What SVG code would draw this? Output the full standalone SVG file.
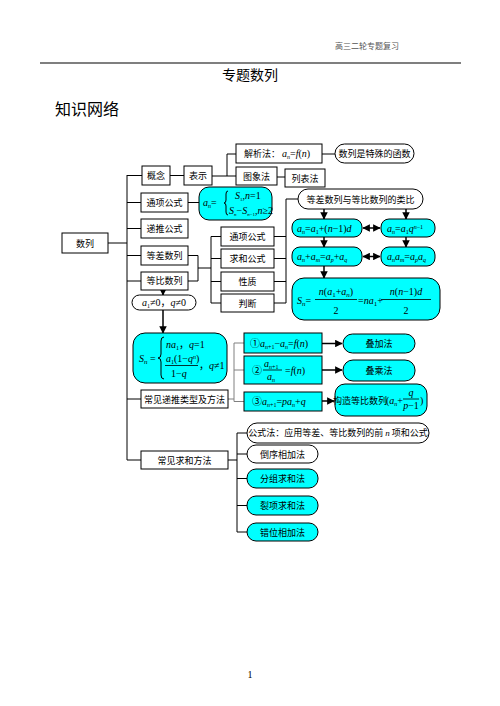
<svg xmlns="http://www.w3.org/2000/svg" width="500" height="706" viewBox="0 0 500 706">
<defs>
<marker id="ah" viewBox="0 0 6 6" refX="5.5" refY="3" markerWidth="5" markerHeight="5" orient="auto-start-reverse"><path d="M0,0 L6,3 L0,6 z" fill="#000"/></marker>
<style>
.b{fill:#fff;stroke:#000;stroke-width:1}
.c{fill:#00ffff;stroke:#000;stroke-width:1}
.l{stroke:#000;fill:none;stroke-width:1}
.g{stroke:#808080;fill:none;stroke-width:1}
.a{stroke:#000;fill:none;stroke-width:1.5;marker-end:url(#ah)}
.d{stroke:#000;fill:none;stroke-width:1.5;marker-end:url(#ah);marker-start:url(#ah)}
.t{font-family:"Noto Sans CJK SC",sans-serif;font-size:9px;text-anchor:middle;fill:#000}
.m{font-family:"Liberation Serif","Noto Sans CJK SC",serif;font-size:10px;fill:#000}
.mc{font-family:"Liberation Serif","Noto Sans CJK SC",serif;font-size:10px;fill:#000;text-anchor:middle}
.i{font-style:italic}
</style>
</defs>
<rect width="500" height="706" fill="#fff"/>
<text x="367" y="49" style="font-family:'Liberation Serif','Noto Sans CJK SC',serif;font-size:8px;fill:#555;text-anchor:middle">高三二轮专题复习</text>
<line x1="40" y1="63" x2="461" y2="63" stroke="#000" stroke-width="1.2"/>
<text x="250" y="80" style="font-family:'Noto Sans CJK SC',sans-serif;font-size:14px;text-anchor:middle">专题数列</text>
<text x="55" y="115" style="font-family:'Noto Sans CJK SC',sans-serif;font-size:16px">知识网络</text>
<text x="250" y="678" style="font-family:'Liberation Serif',serif;font-size:10px;text-anchor:middle">1</text>

<g id="connectors">
<path class="l" d="M108,243 H127 M127,175 V460 M127,175.5 H142 M127,202.5 H141 M127,228.5 H141 M127,255.5 H141 M127,281 H141 M127,399 H141 M127,460 H141"/>
<path class="l" d="M170,175.5 H184 M212,176 H227 V154 H236 M227,176 H236 M277,177 H285 M322,154 H335 M188,202.5 H199"/>
<path class="l" d="M188,255.5 H198 M188,281 H198 M198,255.5 V281 M198,268 H211 M211,236.5 V303 M211,236.5 H221 M211,258.5 H221 M211,281.5 H221 M211,303 H221"/>
<path class="l" d="M274,236.5 H286 M274,258.5 H286 M274,281.5 H286 M274,303 H286 M286,199 V303 M286,199 H298"/>
<path class="a" d="M163,290 V295"/>
<path class="a" d="M163,310 V333"/>
<path class="a" d="M324,209 V219"/>
<path class="a" d="M406,209 V219"/>
<path class="a" d="M324,237 V247"/>
<path class="a" d="M406,237 V247"/>
<path class="a" d="M324,266 V278"/>
<path class="d" d="M363,228 H380"/>
<path class="d" d="M363,256.5 H380"/>
<path class="g" d="M228,399 H234 M234,343 V401.5 M234,343 H244 M234,370 H244 M234,401.5 H244"/>
<path class="a" d="M322,343.5 H342"/>
<path class="a" d="M322,370 H342"/>
<path class="a" d="M322,401 H334"/>
<path class="l" d="M228,460 H237 M237,433 V532 M237,433 H247 M237,454 H247 M237,478.5 H247 M237,505.5 H247 M237,532 H247"/>
</g>

<g id="n-shulie"><rect class="b" x="62" y="233" width="46" height="20"/><text class="t" x="85" y="246.5">数列</text></g>
<g id="n-gainian"><rect class="b" x="142" y="166" width="28" height="19"/><text class="t" x="156" y="178.5">概念</text></g>
<g id="n-biaoshi"><rect class="b" x="184" y="166" width="28" height="19"/><text class="t" x="198" y="178.5">表示</text></g>
<g id="n-tongxiang"><rect class="b" x="141" y="193" width="47" height="19"/><text class="t" x="164.5" y="205.5">通项公式</text></g>
<g id="n-ditui"><rect class="b" x="141" y="219" width="47" height="19"/><text class="t" x="164.5" y="231.5">递推公式</text></g>
<g id="n-dengcha"><rect class="b" x="141" y="246" width="47" height="19"/><text class="t" x="164.5" y="258.5">等差数列</text></g>
<g id="n-dengbi"><rect class="b" x="141" y="272" width="47" height="18"/><text class="t" x="164.5" y="284">等比数列</text></g>
<g id="n-cond"><rect class="b" x="132" y="295" width="64" height="15" rx="7.5"/><text class="m" x="142" y="306"><tspan class="i">a</tspan><tspan font-size="6" dy="2">1</tspan><tspan dy="-2">≠0，</tspan><tspan class="i">q</tspan>≠0</text></g>
<g id="n-sn-geo"><rect class="c" x="133" y="333" width="94" height="50" rx="12"/>
<text class="m" x="139" y="362" font-size="12"><tspan class="i">S</tspan><tspan font-size="7" dy="2" class="i">n</tspan><tspan dy="-2"> =</tspan></text>
<path class="l" d="M164,337 q-3,0 -3,4 v13 q0,4 -3,4 q3,0 3,4 v13 q0,4 3,4"/>
<text class="m" x="166" y="348" font-size="9"><tspan class="i">na</tspan><tspan font-size="6" dy="2">1</tspan><tspan dy="-2">，</tspan><tspan class="i">q</tspan>=1</text>
<text class="m" x="166" y="362" font-size="9"><tspan class="i">a</tspan><tspan font-size="6" dy="2">1</tspan><tspan dy="-2">(1−</tspan><tspan class="i">q</tspan><tspan font-size="6" dy="-3" class="i">n</tspan><tspan dy="3">)</tspan></text>
<line x1="165" y1="365.5" x2="198" y2="365.5" stroke="#000" stroke-width="0.8"/>
<text class="m" x="171" y="377" font-size="10">1−<tspan class="i">q</tspan></text>
<text class="m" x="199" y="369" font-size="9">，<tspan class="i">q</tspan>≠1</text></g>
<g id="n-changjian-ditui"><rect class="b" x="141" y="390" width="87" height="18"/><text class="t" x="184.5" y="402.5">常见递推类型及方法</text></g>
<g id="n-changjian-qiuhe"><rect class="b" x="141" y="451" width="87" height="18"/><text class="t" x="184.5" y="463.5">常见求和方法</text></g>

<g id="n-jiexi"><rect class="b" x="236" y="144" width="86" height="19"/><text class="t" x="262" y="156.5">解析法：</text><text class="m" x="282" y="157"><tspan class="i">a</tspan><tspan font-size="6" dy="2" class="i">n</tspan><tspan dy="-2">=</tspan><tspan class="i">f</tspan>(<tspan class="i">n</tspan>)</text></g>
<g id="n-hanshu"><rect class="b" x="335" y="144" width="79" height="19" rx="9.5"/><text class="t" x="374.5" y="156.5" font-size="8.5">数列是特殊的函数</text></g>
<g id="n-tuxiang"><rect class="b" x="236" y="167" width="41" height="18"/><text class="t" x="256.5" y="179.5">图象法</text></g>
<g id="n-liebiao"><rect class="b" x="285" y="169" width="40" height="18"/><text class="t" x="305" y="181.5">列表法</text></g>
<g id="n-an"><rect class="c" x="199" y="187" width="73" height="33" rx="10"/>
<text class="m" x="203" y="206"><tspan class="i">a</tspan><tspan font-size="6" dy="2" class="i">n</tspan><tspan dy="-2">=</tspan></text>
<path class="l" stroke-width="0.8" d="M228,191 q-2,0 -2,3 v6 q0,3 -2,3 q2,0 2,3 v6 q0,3 2,3"/>
<text class="m" x="235" y="199" font-size="8"><tspan class="i">S</tspan><tspan font-size="5" dy="2">1</tspan><tspan dy="-2">,</tspan><tspan class="i">n</tspan>=1</text>
<text class="m" x="229" y="214" font-size="7.2"><tspan class="i">S</tspan><tspan font-size="5" dy="2" class="i">n</tspan><tspan dy="-2">−</tspan><tspan class="i">S</tspan><tspan font-size="5" dy="2" class="i">n</tspan><tspan font-size="5">−1</tspan><tspan dy="-2">,</tspan><tspan class="i">n</tspan>≥2</text></g>
<g id="n-tx2"><rect class="b" x="221" y="227" width="53" height="19"/><text class="t" x="247.5" y="239.5">通项公式</text></g>
<g id="n-qh2"><rect class="b" x="221" y="249" width="53" height="19"/><text class="t" x="247.5" y="261.5">求和公式</text></g>
<g id="n-xingzhi"><rect class="b" x="221" y="272" width="53" height="19"/><text class="t" x="247.5" y="284.5">性质</text></g>
<g id="n-panduan"><rect class="b" x="221" y="294" width="53" height="18"/><text class="t" x="247.5" y="306.5">判断</text></g>

<g id="n-leibi"><rect class="b" x="298" y="189" width="125" height="20" rx="10"/><text class="t" x="360.5" y="202.5">等差数列与等比数列的类比</text></g>
<g id="n-c1"><rect class="c" x="292" y="219" width="70" height="18" rx="8"/><text class="m" x="297" y="232"><tspan class="i">a</tspan><tspan font-size="6" dy="2" class="i">n</tspan><tspan dy="-2">=</tspan><tspan class="i">a</tspan><tspan font-size="6" dy="2">1</tspan><tspan dy="-2">+(</tspan><tspan class="i">n</tspan>−1)<tspan class="i">d</tspan></text></g>
<g id="n-c2"><rect class="c" x="381" y="219" width="54" height="18" rx="8"/><text class="m" x="387" y="232"><tspan class="i">a</tspan><tspan font-size="6" dy="2" class="i">n</tspan><tspan dy="-2">=</tspan><tspan class="i">a</tspan><tspan font-size="6" dy="2">1</tspan><tspan dy="-2" class="i">q</tspan><tspan font-size="6" dy="-3" class="i">n</tspan><tspan font-size="6">−1</tspan></text></g>
<g id="n-c3"><rect class="c" x="292" y="247" width="70" height="19" rx="8"/><text class="m" x="297" y="260"><tspan class="i">a</tspan><tspan font-size="6" dy="2" class="i">n</tspan><tspan dy="-2">+</tspan><tspan class="i">a</tspan><tspan font-size="6" dy="2" class="i">m</tspan><tspan dy="-2">=</tspan><tspan class="i">a</tspan><tspan font-size="6" dy="2" class="i">p</tspan><tspan dy="-2">+</tspan><tspan class="i">a</tspan><tspan font-size="6" dy="2" class="i">q</tspan></text></g>
<g id="n-c4"><rect class="c" x="381" y="247" width="54" height="19" rx="8"/><text class="m" x="387" y="260"><tspan class="i">a</tspan><tspan font-size="6" dy="2" class="i">n</tspan><tspan dy="-2" class="i">a</tspan><tspan font-size="6" dy="2" class="i">m</tspan><tspan dy="-2">=</tspan><tspan class="i">a</tspan><tspan font-size="6" dy="2" class="i">p</tspan><tspan dy="-2" class="i">a</tspan><tspan font-size="6" dy="2" class="i">q</tspan></text></g>
<g id="n-sn-ari"><rect class="c" x="292" y="278" width="148" height="42" rx="12"/>
<text class="m" x="297" y="304" font-size="12"><tspan class="i">S</tspan><tspan font-size="7" dy="2" class="i">n</tspan><tspan dy="-2">=</tspan></text>
<text class="mc" x="336" y="295" font-size="12"><tspan class="i">n</tspan>(<tspan class="i">a</tspan><tspan font-size="7" dy="2">1</tspan><tspan dy="-2">+</tspan><tspan class="i">a</tspan><tspan font-size="7" dy="2" class="i">n</tspan><tspan dy="-2">)</tspan></text>
<line x1="315" y1="299.5" x2="357" y2="299.5" stroke="#000" stroke-width="0.8"/>
<text class="mc" x="336" y="314" font-size="12">2</text>
<text class="m" x="358" y="304" font-size="12">=<tspan class="i">na</tspan><tspan font-size="7" dy="2">1</tspan><tspan dy="-2">+</tspan></text>
<text class="mc" x="406" y="295" font-size="12"><tspan class="i">n</tspan>(<tspan class="i">n</tspan>−1)<tspan class="i">d</tspan></text>
<line x1="381" y1="299.5" x2="431" y2="299.5" stroke="#000" stroke-width="0.8"/>
<text class="mc" x="406" y="314" font-size="12">2</text></g>

<g id="n-r1"><rect class="c" x="244" y="333" width="78" height="20"/><text class="m" x="250" y="347">①<tspan class="i">a</tspan><tspan font-size="6" dy="2" class="i">n</tspan><tspan font-size="6">+1</tspan><tspan dy="-2">−</tspan><tspan class="i">a</tspan><tspan font-size="6" dy="2" class="i">n</tspan><tspan dy="-2">=</tspan><tspan class="i">f</tspan>(<tspan class="i">n</tspan>)</text></g>
<g id="n-r2"><rect class="c" x="244" y="356" width="78" height="28"/>
<text class="m" x="252" y="374">②</text>
<text class="m" x="264" y="367" font-size="9"><tspan class="i">a</tspan><tspan font-size="6" dy="2" class="i">n</tspan><tspan font-size="6">+1</tspan></text>
<line x1="263" y1="370" x2="282" y2="370" stroke="#000" stroke-width="0.8"/>
<text class="m" x="267" y="380" font-size="9"><tspan class="i">a</tspan><tspan font-size="6" dy="2" class="i">n</tspan></text>
<text class="m" x="285" y="374">=<tspan class="i">f</tspan>(<tspan class="i">n</tspan>)</text></g>
<g id="n-r3"><rect class="c" x="244" y="392" width="78" height="19"/><text class="m" x="252" y="405">③<tspan class="i">a</tspan><tspan font-size="6" dy="2" class="i">n</tspan><tspan font-size="6">+1</tspan><tspan dy="-2">=</tspan><tspan class="i">pa</tspan><tspan font-size="6" dy="2" class="i">n</tspan><tspan dy="-2">+</tspan><tspan class="i">q</tspan></text></g>
<g id="n-diejia"><rect class="c" x="343" y="334" width="72" height="19" rx="9.5"/><text class="t" x="379" y="346.5">叠加法</text></g>
<g id="n-diecheng"><rect class="c" x="343" y="360" width="72" height="21" rx="10"/><text class="t" x="379" y="373.5">叠乘法</text></g>
<g id="n-gouzao"><rect class="c" x="335" y="384" width="92" height="32" rx="10"/>
<text class="t" x="360" y="403.5" font-size="7.6">构造等比数列</text>
<text class="m" x="386" y="404" font-size="9">(<tspan class="i">a</tspan><tspan font-size="6" dy="2" class="i">n</tspan><tspan dy="-2">+</tspan></text>
<text class="mc" x="411" y="396" font-size="9" font-style="italic">q</text>
<line x1="403" y1="399" x2="419" y2="399" stroke="#000" stroke-width="0.8"/>
<text class="mc" x="411" y="409" font-size="9"><tspan class="i">p</tspan>−1</text>
<text class="m" x="420" y="404" font-size="9">)</text></g>

<g id="n-gongshi"><rect class="b" x="247" y="423" width="182" height="20" rx="10"/><text class="t" x="338" y="436" font-size="8">公式法：应用等差、等比数列的前 <tspan font-family="Liberation Serif" font-style="italic">n</tspan> 项和公式</text></g>
<g id="n-daoxu"><rect class="b" x="247" y="445" width="71" height="18" rx="9"/><text class="t" x="282.5" y="457.5">倒序相加法</text></g>
<g id="n-fenzu"><rect class="c" x="247" y="469" width="71" height="19" rx="9"/><text class="t" x="282.5" y="481.5">分组求和法</text></g>
<g id="n-liexiang"><rect class="c" x="247" y="496" width="71" height="19" rx="9"/><text class="t" x="282.5" y="508.5">裂项求和法</text></g>
<g id="n-cuowei"><rect class="c" x="247" y="523" width="71" height="18" rx="9"/><text class="t" x="282.5" y="535.5">错位相加法</text></g>
</svg>
